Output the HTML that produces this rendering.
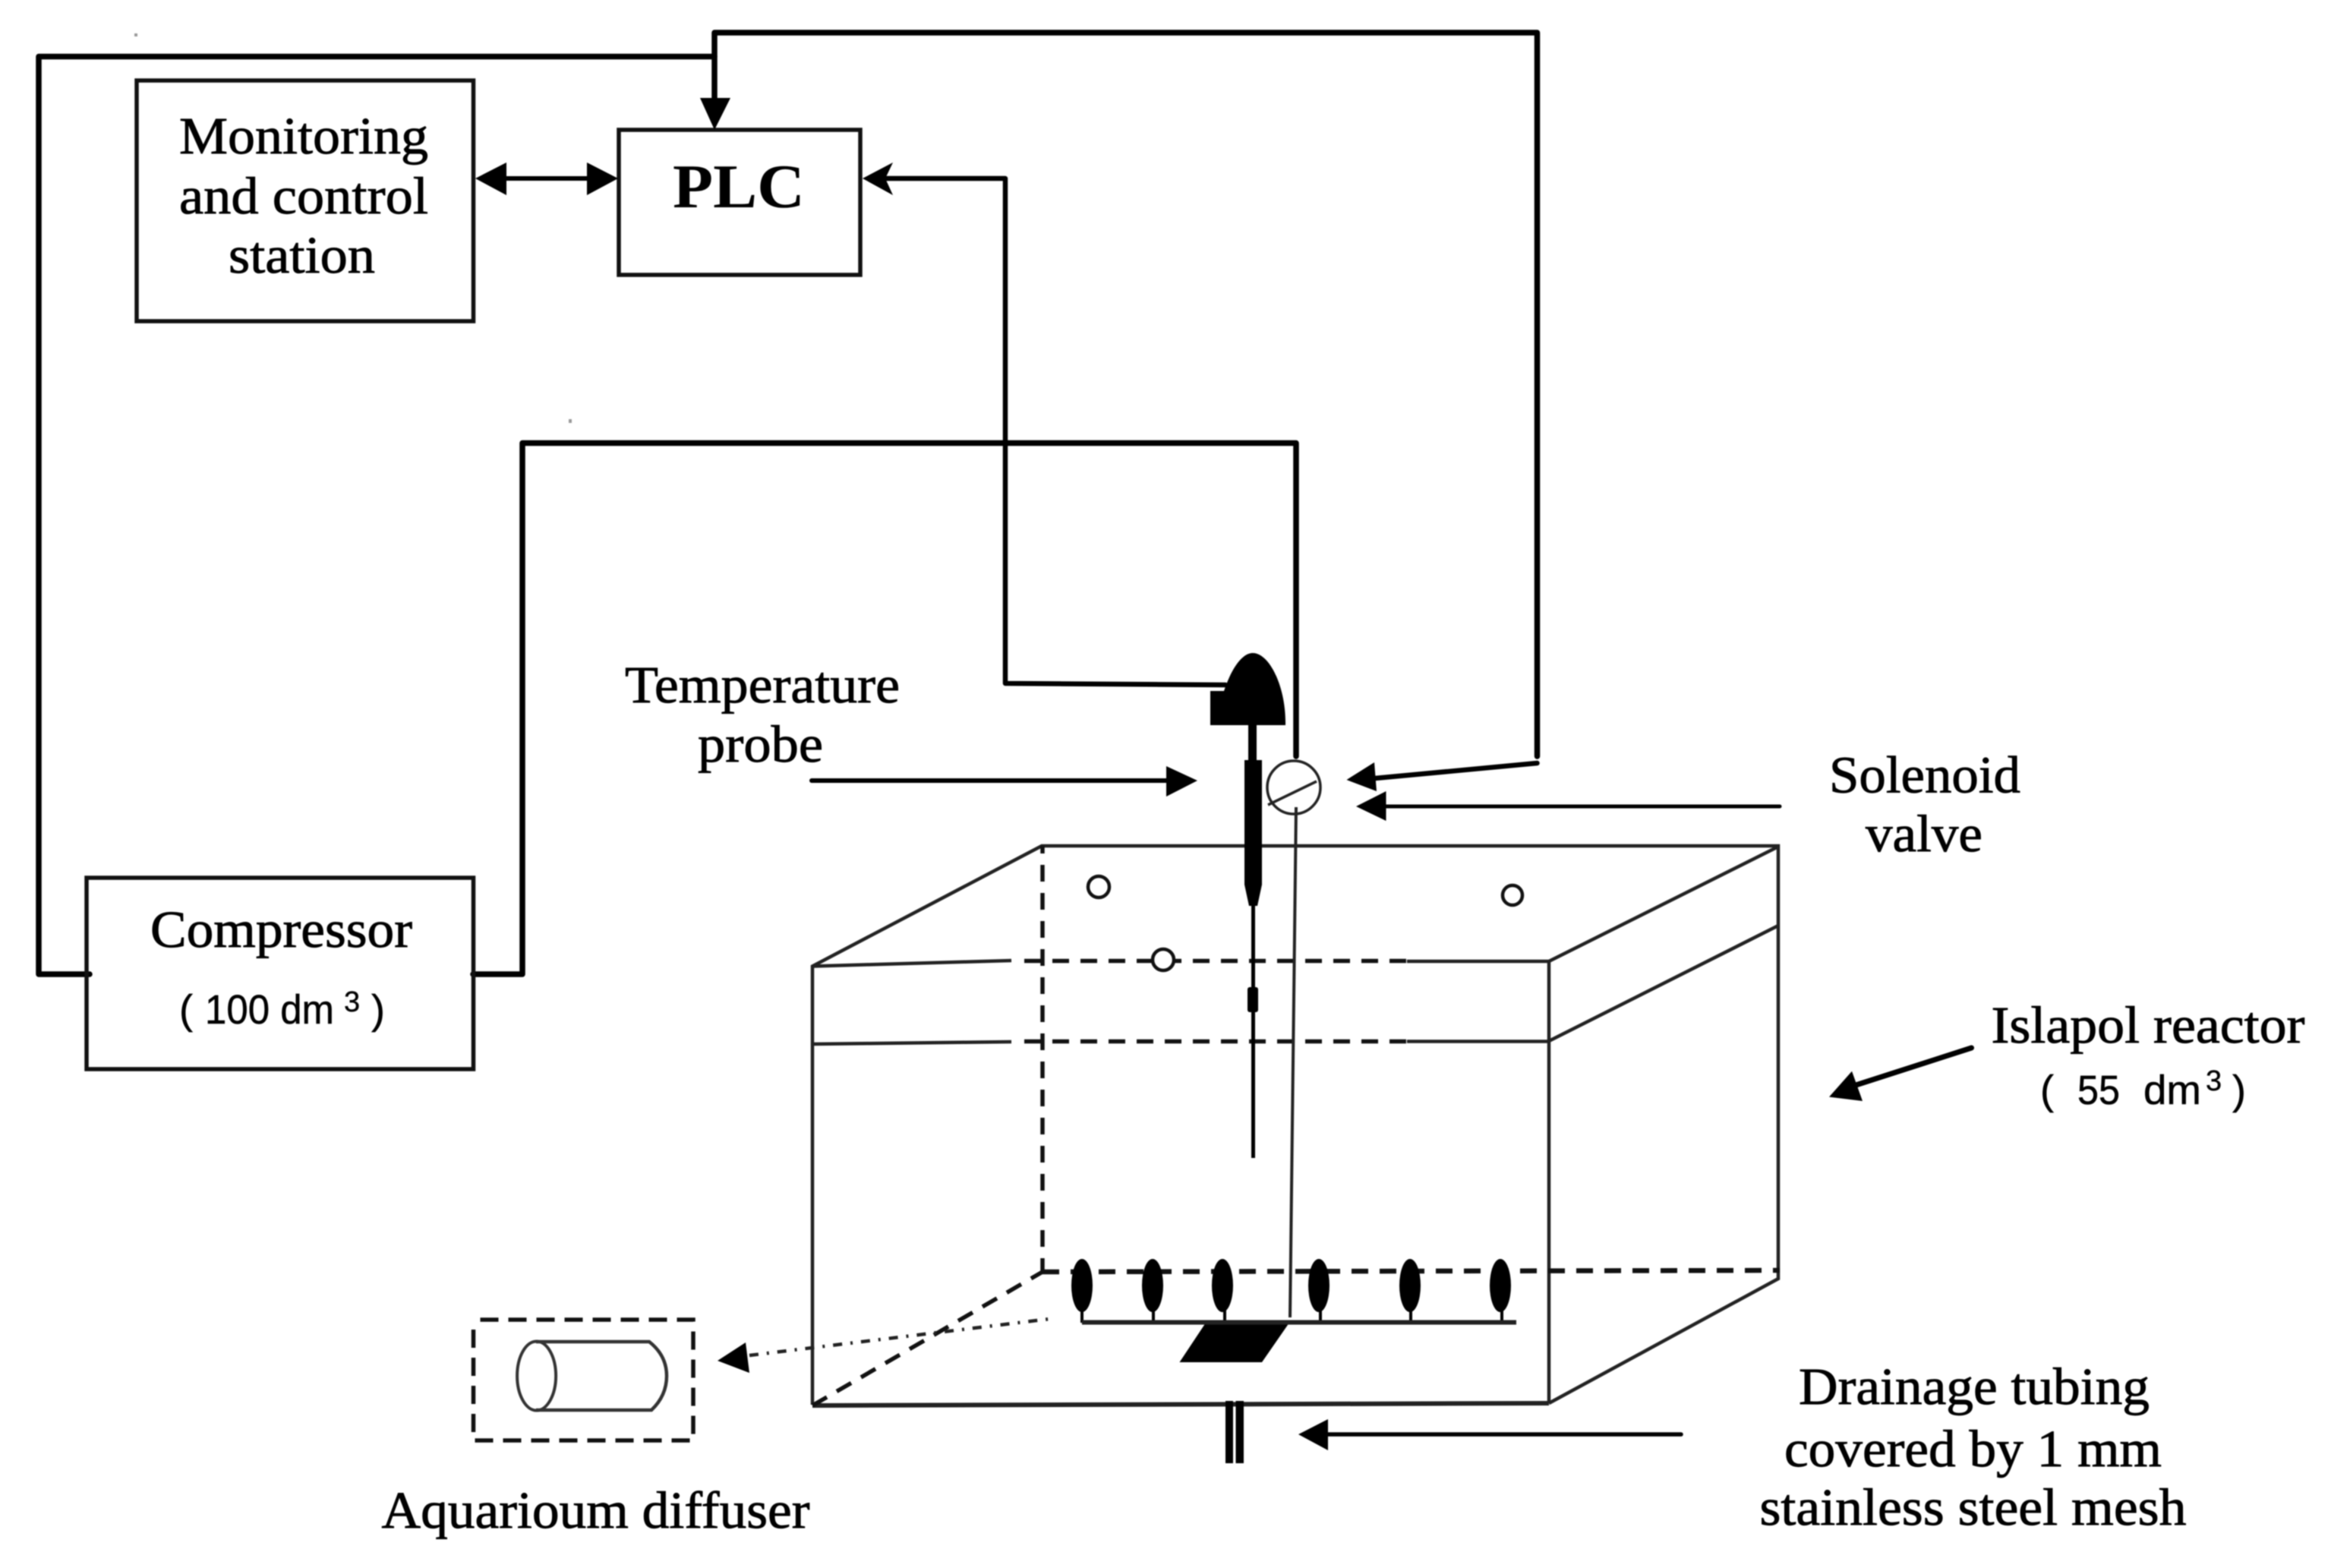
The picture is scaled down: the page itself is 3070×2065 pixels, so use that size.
<!DOCTYPE html>
<html><head><meta charset="utf-8"><style>
html,body{margin:0;padding:0;background:#fff;width:3070px;height:2065px;overflow:hidden}
svg{display:block;filter:blur(.9px)}
text{font-family:"Liberation Serif",serif;font-size:69px;fill:#000;stroke:#000;stroke-width:.9px;text-rendering:geometricPrecision}
.a{font-family:"Liberation Sans",sans-serif;font-size:54px;stroke-width:.5px}
.s{font-family:"Liberation Sans",sans-serif;font-size:38px;stroke-width:.4px}
</style></head><body>
<svg width="3070" height="2065" viewBox="0 0 3070 2065" xmlns="http://www.w3.org/2000/svg">
<rect width="3070" height="2065" fill="#fff"/>
<rect x="177" y="44" width="4" height="4" fill="#999"/><rect x="749" y="552" width="4" height="5" fill="#999"/>

<!-- control wiring -->
<g fill="none" stroke="#000" stroke-linejoin="round" stroke-linecap="round">
<path d="M118 1283H51V74.500H941" stroke-width="7.500"/>
<path d="M941 129V43H2024.500V996" stroke-width="7.500"/>
<path d="M640 235H800" stroke-width="6"/>
<path d="M1155 235H1324V900L1614 902" stroke-width="6.500"/>
<path d="M623 1283H688V583.500H1707V996" stroke-width="7.500"/>
<path d="M2024.500 1005L1800 1026" stroke-width="6.500"/>
<path d="M1069 1028H1540" stroke-width="6"/>
<path d="M2344 1062H1820" stroke-width="5"/>
<path d="M2214 1889H1745" stroke-width="5.500"/>
<path d="M2596.500 1380L2435 1432" stroke-width="7"/>
</g>
<g fill="none" stroke="#111" stroke-width="5.500">
<rect x="180" y="106" width="443.500" height="317"/>
<rect x="815" y="171" width="318" height="191"/>
<rect x="114" y="1156" width="509.500" height="252"/>
</g>
<!-- arrowheads -->
<g fill="#000">
<path d="M941 171L922 129H962Z"/>
<path d="M626 235L667 214V257Z"/>
<path d="M814 235L773 214V257Z"/>
<path d="M1136 235L1176 214L1166 235L1176 257Z"/>
<path d="M1577 1028L1536 1009V1049Z"/>
<path d="M1773.500 1027L1810 1004L1813 1042Z"/>
<path d="M1786 1062L1825.500 1042V1081Z"/>
<path d="M1710 1889L1749 1869V1910Z"/>
<path d="M2409 1444.600L2439 1410.700L2453 1450Z"/>
<path d="M945 1792L982 1768L987 1808Z"/>
</g>

<!-- reactor -->
<g fill="none" stroke="#222" stroke-width="4.500">
<path d="M1070 1850V1272.500L1372 1114H2342V1684L2040 1848"/>
<path d="M2040 1266V1848"/>
<path d="M2040 1266L2342 1115M2040 1371L2342 1219"/>
<path d="M1070 1272.500L1332 1265"/>
<path d="M1070 1375L1332 1372"/>
<path d="M1853 1266H2040M1853 1371.500H2040"/>
<path d="M1070 1851L2040 1848" stroke-width="6"/>
</g>
<g fill="none" stroke="#111" stroke-width="5.500" stroke-dasharray="22 15">
<path d="M1349 1265.500H1853"/>
<path d="M1349 1371.500H1853"/>
<path d="M1373 1114V1676" stroke-dashoffset="12"/>
<path d="M1373 1675L2344 1673" stroke-width="6.500"/>
<path d="M1070 1851L1373 1675"/>
</g>
<path d="M987 1785L1382 1737" fill="none" stroke="#222" stroke-width="4.500" stroke-dasharray="12 11 3 11"/>

<!-- wall ports -->
<g fill="#fff" stroke="#111" stroke-width="4.500">
<circle cx="1447" cy="1168" r="14"/><circle cx="1992" cy="1179" r="13"/><circle cx="1532" cy="1264" r="14"/>
</g>

<!-- sensor -->
<path d="M1594 910H1612C1622 880 1636 860 1650 860C1672 860 1694 905 1693 955H1594Z" fill="#000"/>
<rect x="1644" y="955" width="11" height="48" fill="#000"/>
<path d="M1639 1001H1662V1165L1656 1193H1645L1639 1165Z" fill="#000"/>
<path d="M1650.500 1190V1525" stroke="#000" stroke-width="5"/>
<rect x="1643" y="1300" width="14" height="33" rx="3" fill="#000"/>

<!-- valve -->
<circle cx="1704" cy="1037" r="35" fill="#fff" stroke="#222" stroke-width="3.500"/>
<path d="M1670 1060L1734 1029" stroke="#222" stroke-width="3.500"/>
<path d="M1707 1063L1699 1735" stroke="#222" stroke-width="4"/>

<!-- diffuser rail -->
<g fill="#000">
<ellipse cx="1425" cy="1693" rx="14" ry="35"/><ellipse cx="1518" cy="1693" rx="14" ry="35"/>
<ellipse cx="1610" cy="1693" rx="14" ry="35"/><ellipse cx="1737" cy="1693" rx="14" ry="35"/>
<ellipse cx="1857" cy="1693" rx="14" ry="35"/><ellipse cx="1976" cy="1693" rx="14" ry="35"/>
<path d="M1423 1725h4v17h-4zM1517 1725h4v17h-4zM1611 1725h4v17h-4zM1737 1725h4v17h-4zM1856 1725h4v17h-4zM1976 1725h4v17h-4z"/>
<path d="M1588 1742H1698L1662 1794H1553.500Z"/>
<rect x="1614" y="1845" width="10" height="82"/><rect x="1627.500" y="1845" width="10.500" height="82"/>
</g>
<path d="M1425 1741.500H1997" stroke="#222" stroke-width="6"/>

<!-- aquarium diffuser -->
<path d="M623.500 1738H913V1897H623.500Z" fill="none" stroke="#111" stroke-width="5.500" stroke-dasharray="24 13" stroke-dashoffset="-9"/>
<ellipse cx="706.600" cy="1812" rx="25.500" ry="45.500" fill="#fff" stroke="#333" stroke-width="4"/>
<path d="M706 1767H855Q878 1785 878 1812Q878 1838 858 1857H706" fill="none" stroke="#333" stroke-width="4.500"/>

<!-- labels -->
<text x="236" y="202" textLength="328" lengthAdjust="spacingAndGlyphs">Monitoring</text>
<text x="236" y="281" textLength="328" lengthAdjust="spacingAndGlyphs">and control</text>
<text x="301" y="359" textLength="193" lengthAdjust="spacingAndGlyphs">station</text>
<text x="886" y="273" textLength="174" lengthAdjust="spacingAndGlyphs" style="font-size:82px;font-weight:700;stroke-width:0">PLC</text>
<text x="198" y="1247" textLength="345" lengthAdjust="spacingAndGlyphs">Compressor</text>
<text class="a" x="236" y="1348">(</text>
<text class="a" x="270" y="1348" textLength="170" lengthAdjust="spacingAndGlyphs">100 dm</text>
<text class="s" x="453" y="1332">3</text>
<text class="a" x="489" y="1348">)</text>
<text x="823" y="925" textLength="362" lengthAdjust="spacingAndGlyphs">Temperature</text>
<text x="919" y="1003" textLength="165" lengthAdjust="spacingAndGlyphs">probe</text>
<text x="2409" y="1043.600" textLength="252" lengthAdjust="spacingAndGlyphs">Solenoid</text>
<text x="2457" y="1121" textLength="154" lengthAdjust="spacingAndGlyphs">valve</text>
<text x="2622.500" y="1373" textLength="413" lengthAdjust="spacingAndGlyphs">Islapol reactor</text>
<text class="a" x="2687" y="1454">(</text>
<text class="a" x="2736" y="1454" textLength="56" lengthAdjust="spacingAndGlyphs">55</text>
<text class="a" x="2823" y="1454" textLength="76" lengthAdjust="spacingAndGlyphs">dm</text>
<text class="s" x="2905" y="1436">3</text>
<text class="a" x="2940" y="1454">)</text>
<text x="502.500" y="2012" textLength="564" lengthAdjust="spacingAndGlyphs">Aquarioum diffuser</text>
<text x="2369" y="1849" textLength="462" lengthAdjust="spacingAndGlyphs">Drainage tubing</text>
<text x="2350" y="1931" textLength="497" lengthAdjust="spacingAndGlyphs">covered by 1 mm</text>
<text x="2317.500" y="2008" textLength="562" lengthAdjust="spacingAndGlyphs">stainless steel mesh</text>
</svg>
</body></html>
